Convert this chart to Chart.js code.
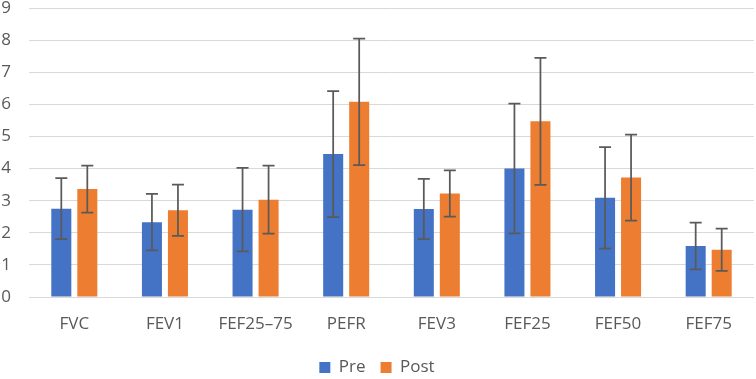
<!DOCTYPE html>
<html>
<head>
<meta charset="utf-8">
<script src="https://cdn.jsdelivr.net/npm/chart.js@4/dist/chart.umd.min.js"></script>
<style>
  html, body { margin: 0; padding: 0; background: #ffffff; }
  #wrap { width: 756px; height: 379px; position: relative; }
</style>
</head>
<body>
<div id="wrap"><canvas id="c" width="756" height="379"></canvas></div>
<script>
const categories = ["FVC", "FEV1", "FEF25\u201375", "PEFR", "FEV3", "FEF25", "FEF50", "FEF75"];
const preValues  = [2.75, 2.33, 2.72, 4.45, 2.74, 4.00, 3.09, 1.59];
const preErrors  = [0.95, 0.88, 1.30, 1.96, 0.94, 2.02, 1.58, 0.73];
const postValues = [3.36, 2.70, 3.03, 6.08, 3.22, 5.47, 3.72, 1.47];
const postErrors = [0.73, 0.80, 1.06, 1.97, 0.72, 1.98, 1.34, 0.66];
const yTicks = [0, 1, 2, 3, 4, 5, 6, 7, 8, 9];

const errorBarPlugin = {
  id: 'errorBars',
  afterDatasetsDraw(chart) {
    const ctx = chart.ctx;
    const y = chart.scales.y;
    chart.data.datasets.forEach((ds, di) => {
      const meta = chart.getDatasetMeta(di);
      if (meta.hidden) return;
      meta.data.forEach((bar, i) => {
        const v = ds.data[i], e = ds.errors[i];
        const yTop = y.getPixelForValue(v + e);
        const yBot = y.getPixelForValue(v - e);
        const x = bar.x;
        const cap = 6;
        ctx.save();
        ctx.strokeStyle = '#5a5a5a';
        ctx.lineWidth = 1.75;
        ctx.beginPath();
        ctx.moveTo(x, yTop); ctx.lineTo(x, yBot);
        ctx.moveTo(x - cap, yTop); ctx.lineTo(x + cap, yTop);
        ctx.moveTo(x - cap, yBot); ctx.lineTo(x + cap, yBot);
        ctx.stroke();
        ctx.restore();
      });
    });
  }
};

const fontFamily = "'Open Sans', 'DejaVu Sans', sans-serif";

new Chart(document.getElementById('c'), {
  type: 'bar',
  data: {
    labels: categories,
    datasets: [
      { label: 'Pre', data: preValues, errors: preErrors, backgroundColor: '#4472C4',
        categoryPercentage: 0.574, barPercentage: 0.77 },
      { label: 'Post', data: postValues, errors: postErrors, backgroundColor: '#ED7D31',
        categoryPercentage: 0.574, barPercentage: 0.77 }
    ]
  },
  options: {
    responsive: false,
    animation: false,
    devicePixelRatio: 1,
    layout: { padding: { top: 8, right: 2, left: 0, bottom: -7 } },
    plugins: {
      tooltip: { enabled: false },
      legend: {
        position: 'bottom',
        labels: {
          boxWidth: 11, boxHeight: 11, padding: 15,
          color: '#595959',
          font: { family: fontFamily, size: 17 }
        }
      }
    },
    scales: {
      x: {
        grid: { display: false },
        border: { display: false },
        ticks: { color: '#595959', font: { family: fontFamily, size: 17 }, padding: 9, maxRotation: 0, autoSkip: false },
        afterFit: (scale) => { scale.height = 47; scale.paddingLeft = 0; scale.paddingRight = 0; }
      },
      y: {
        min: 0, max: 9,
        afterBuildTicks: (scale) => { scale.ticks = yTicks.map(v => ({ value: v })); },
        grid: { color: '#d9d9d9', lineWidth: 1, drawTicks: false },
        border: { display: false },
        ticks: { color: '#595959', font: { family: fontFamily, size: 17 }, padding: 18 },
        afterFit: (scale) => { scale.width = 29; scale.paddingTop = 0; scale.paddingBottom = 0; }
      }
    }
  },
  plugins: [errorBarPlugin]
});
</script>
</body>
</html>
